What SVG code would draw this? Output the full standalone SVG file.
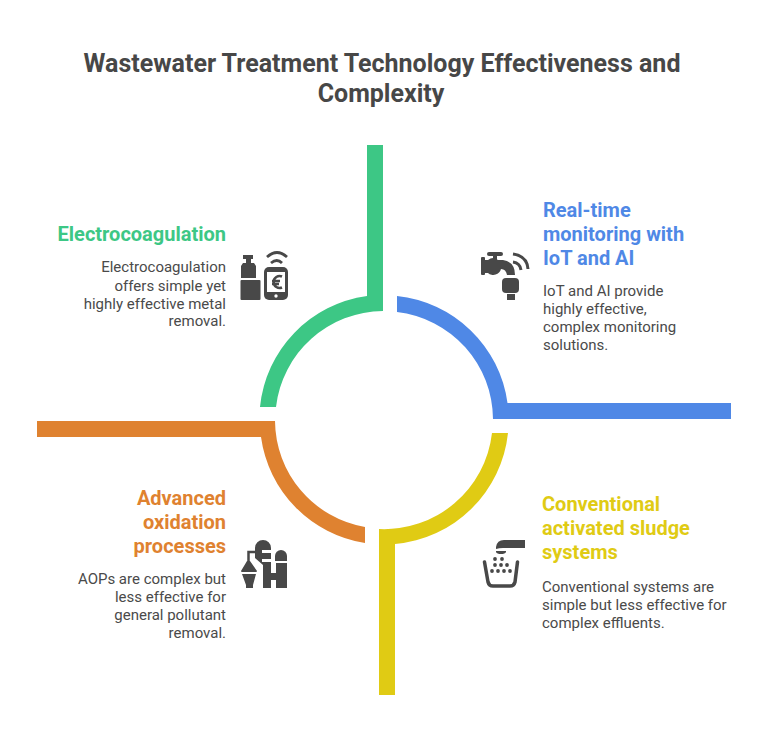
<svg xmlns="http://www.w3.org/2000/svg" width="768" height="756" viewBox="0 0 768 756">
<style>
text{font-family:Roboto,"Liberation Sans",sans-serif}
.t{font-size:25px;font-weight:700;fill:#474747;text-anchor:middle}
.h{font-size:20px;font-weight:700}
.b{font-size:15px;fill:#4a4a4a}
.e{text-anchor:end}
.i{fill:#484848}
.l{fill:none;stroke:#484848}
</style>
<rect width="768" height="756" fill="#fff"/>
<g id="title"><text class="t" x="382" y="71.500">Wastewater Treatment Technology Effectiveness and</text><text class="t" x="381" y="101.500">Complexity</text></g>
<g id="connectors">
<path fill="#3dc785" d="M367 145H383V311A108.500 108.500 0 0 0 276 407H260A124.500 124.500 0 0 1 367 296Z"/>
<path fill="#4f88e6" d="M397 296A124.500 124.500 0 0 1 507.500 403H731V419H493A108.500 108.500 0 0 0 397 312Z"/>
<path fill="#e0cb14" d="M508 433A124.500 124.500 0 0 1 395 544V695H379V529A108.500 108.500 0 0 0 492 433Z"/>
<path fill="#df8230" d="M37 421H275A108.500 108.500 0 0 0 365 527V543A124.500 124.500 0 0 1 261 437H37Z"/>
</g>
<g id="node-electrocoagulation">
<text class="h e" x="226" y="241" fill="#3dc785">Electrocoagulation</text>
<text class="b e"><tspan x="226" y="272">Electrocoagulation</tspan><tspan x="226" y="291">offers simple yet</tspan><tspan x="226" y="309">highly effective metal</tspan><tspan x="226" y="326">removal.</tspan></text>
<g id="icon-electro">
<path class="i" d="M243 255H253V259H251V263H254L256 266V278H241V266L243 263H246V259H243Z"/><rect class="i" x="240.500" y="280" width="20" height="20" rx="1"/>
<rect class="i" x="264" y="267" width="24" height="33" rx="5"/><rect x="267" y="272" width="18" height="20" fill="#fff"/>
<path class="l" stroke-width="2.500" d="M282 276.500A6 6 0 1 0 282 287.500M272 281H280M272 284H279"/><circle cx="276" cy="296" r="1.700" fill="#fff"/>
<path class="l" stroke-width="2.800" d="M267 257Q277 248 287 257M271 263Q277 258 282 263"/>
</g></g>
<g id="node-realtime">
<text class="h" fill="#4f88e6"><tspan x="543" y="217">Real-time</tspan><tspan x="543" y="241">monitoring with</tspan><tspan x="543" y="265">IoT and AI</tspan></text>
<text class="b"><tspan x="543" y="296">IoT and AI provide</tspan><tspan x="543" y="314">highly effective,</tspan><tspan x="543" y="332">complex monitoring</tspan><tspan x="543" y="350">solutions.</tspan></text>
<g id="icon-tap">
<rect class="i" x="487" y="252" width="16" height="4" rx="2"/><rect class="i" x="493" y="255" width="4" height="6"/><rect class="i" x="481" y="257" width="4" height="18" rx="1"/>
<path class="i" d="M485 260H488A8 8 0 0 1 498 260H503Q515 262 515 275H507Q506 269 501 269A8 8 0 0 1 488 273H485Z"/>
<rect class="i" x="502" y="278" width="17" height="15" rx="4"/><rect class="i" x="507" y="294" width="8" height="6"/>
<path class="l" stroke-width="3" d="M513 254Q527 256 528 269M513 262Q520 263 521 270"/>
</g></g>
<g id="node-aop">
<text class="h e" fill="#df8230"><tspan x="226" y="505">Advanced</tspan><tspan x="226" y="529">oxidation</tspan><tspan x="226" y="553">processes</tspan></text>
<text class="b e"><tspan x="226" y="584">AOPs are complex but</tspan><tspan x="226" y="602">less effective for</tspan><tspan x="226" y="620">general pollutant</tspan><tspan x="226" y="638">removal.</tspan></text>
<g id="icon-aop">
<path class="i" d="M255 548A8 8 0 0 1 271 548V550H262V553H271V559H262V562H271V573H276V563H287V588H276V580H271V588H263V565L255 558Z"/>
<path class="i" d="M275 556A6 6 0 0 1 287 556V561H275Z"/>
<path class="l" stroke-width="2.500" d="M248.500 562V552H255"/>
<path class="i" d="M247 561H250L257 571Q257 572 256 572H242Q241 572 241 571ZM242 574H256L253 585V588H246V585Z"/>
</g></g>
<g id="node-conventional">
<text class="h" fill="#e0cb14"><tspan x="542" y="511">Conventional</tspan><tspan x="542" y="535">activated sludge</tspan><tspan x="542" y="559">systems</tspan></text>
<text class="b"><tspan x="542" y="592">Conventional systems are</tspan><tspan x="542" y="610">simple but less effective for</tspan><tspan x="542" y="628">complex effluents.</tspan></text>
<g id="icon-sink">
<path class="i" d="M496 549V547Q497 540 504 540H525V548H503Q499 548 496 549Z"/><path class="i" d="M496 551H506V552Q505 554 501 554Q497 554 496 552Z"/>
<path class="l" stroke-width="3.500" stroke-linecap="round" d="M484.500 562L488 582Q489 586 493 586H510Q514 586 515 582L517.500 562"/>
<g class="i"><circle cx="495" cy="559" r="1.900"/><circle cx="502" cy="559" r="1.900"/><circle cx="495" cy="565" r="1.900"/><circle cx="501" cy="565" r="1.900"/><circle cx="507" cy="565" r="1.900"/><circle cx="492" cy="571" r="1.900"/><circle cx="498" cy="571" r="1.900"/><circle cx="504" cy="571" r="1.900"/><circle cx="510" cy="571" r="1.900"/></g>
</g></g>
</svg>
